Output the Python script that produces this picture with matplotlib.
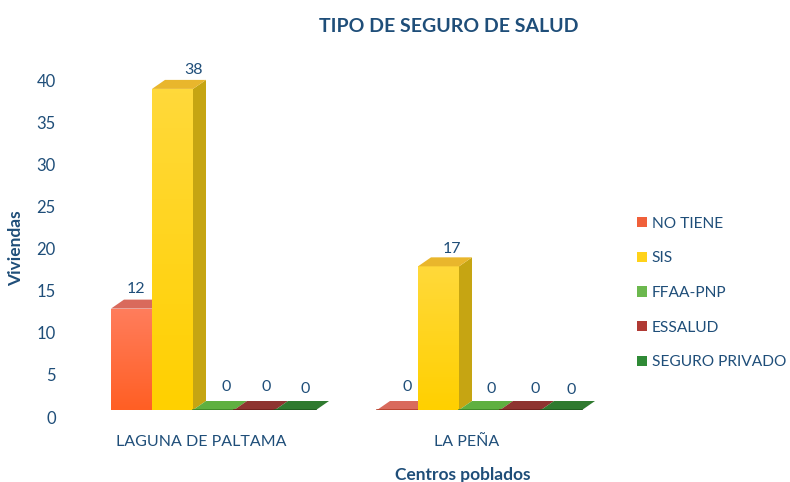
import numpy as np
import matplotlib
matplotlib.use('Agg')
import matplotlib.pyplot as plt
from matplotlib.colors import to_rgb, LinearSegmentedColormap
from matplotlib.patches import Polygon, Patch

plt.rcParams['font.family'] = ['Lato', 'DejaVu Sans']

centros = ['LAGUNA DE PALTAMA', 'LA PEÑA']
seguros = ['NO TIENE', 'SIS', 'FFAA-PNP', 'ESSALUD', 'SEGURO PRIVADO']
no_tiene = [12, 0]
sis = [38, 17]
ffaa = [0, 0]
essalud = [0, 0]
privado = [0, 0]
series = [no_tiene, sis, ffaa, essalud, privado]
y_ticks = [0, 5, 10, 15, 20, 25, 30, 35, 40]

# front (top of gradient, bottom of gradient), top face, side face
front_top = ['#ff7d5c', '#ffd93a', '#66b544', '#a33a34', '#3c8a3c']
front_bot = ['#ff5f24', '#ffd000', '#4fa030', '#8a2a26', '#2a752a']
top_col = ['#d96a5c', '#e9b62c', '#5fb040', '#8e3430', '#2f7a2f']
side_col = ['#b5402a', '#c6a512', '#3d8526', '#6c201c', '#1f5a1f']
legend_col = ['#f0603a', '#ffd21a', '#6cb84e', '#b03a34', '#2f8a36']
txt_col = '#1f4e79'

W, H = 790, 482
PX_GROUP = 266.0   # px between groups
PX_UNIT = 8.45     # px per value unit
bar_w = 41.0 / PX_GROUP
depth_x = 13.0 / PX_GROUP
depth_y = 9.0 / PX_UNIT

fig = plt.figure(figsize=(7.9, 4.82), dpi=100)

# axes for the bars, bottom edge on the floor of the 3D box
left, right, base, top = 60, 610, 410, 60
ax = fig.add_axes([left / W, 1 - base / H, (right - left) / W, (base - top) / H])
ax.axis('off')

# the value axis sits a bit lower than the floor
ay = fig.add_axes([left / W, 1 - 417 / H, 10 / W, 337 / H], frameon=False)
ay.set_ylim(0, 40)
ay.set_xticks([])
ay.set_yticks(y_ticks)
ay.tick_params(axis='y', length=0, pad=3, labelsize=12, labelcolor=txt_col)
ay.patch.set_alpha(0)

x = np.arange(len(centros))
# nudge of value labels in px (x, y)
nudges = [[(5, 13), (10, 16)], [(21, 12), (13, 10)], [(13, 16), (12, 14)],
          [(12, 16), (15, 14)], [(10, 14), (10, 13)]]

for i, vals in enumerate(series):
    xs = x + (i - 2) * bar_w
    bars = ax.bar(xs, vals, width=bar_w, color=front_bot[i], linewidth=0, zorder=2 + i)
    cmap = LinearSegmentedColormap.from_list('f', [to_rgb(front_top[i]), to_rgb(front_bot[i])])
    for b, px, v in zip(bars, xs, vals):
        x0, x1 = px - bar_w / 2, px + bar_w / 2
        if v > 0:
            im = ax.imshow(np.linspace(0, 1, 64).reshape(-1, 1), cmap=cmap, aspect='auto',
                           extent=(x0, x1, 0, v), zorder=2 + i)
            im.set_clip_path(b)
            ax.add_patch(Polygon([(x1, 0), (x1 + depth_x, depth_y), (x1 + depth_x, v + depth_y), (x1, v)],
                                 facecolor=side_col[i], edgecolor='none', zorder=2 + i))
        ax.add_patch(Polygon([(x0, v), (x0 + depth_x, v + depth_y), (x1 + depth_x, v + depth_y), (x1, v)],
                             facecolor=top_col[i], edgecolor='none', zorder=2 + i))
        if v == 0:
            ax.plot([x0, x1], [0, 0], color=side_col[i], lw=1.2, zorder=2 + i)

for i, vals in enumerate(series):
    xs = x + (i - 2) * bar_w
    for j, (px, v) in enumerate(zip(xs, vals)):
        ax.annotate(str(v), (px, v), xytext=(nudges[i][j][0] * 0.72, nudges[i][j][1] * 0.72),
                    textcoords='offset points', ha='center', va='bottom',
                    fontsize=11.5, color=txt_col, zorder=10)

ax.set_xlim((left - 213.5) / PX_GROUP, (right - 213.5) / PX_GROUP)
ax.set_ylim(0, (base - top) / PX_UNIT)

# category labels sit left of the group centres
for c, px in zip(centros, [201, 467]):
    fig.text(px / W, 1 - 442 / H, c, ha='center', va='center', fontsize=11.5, color=txt_col)

fig.text(449 / W, 1 - 26 / H, 'TIPO DE SEGURO DE SALUD', ha='center', va='center',
         fontsize=14, fontweight='bold', color=txt_col)
fig.text(463 / W, 1 - 475 / H, 'Centros poblados', ha='center', va='center',
         fontsize=12.5, fontweight='bold', color=txt_col)
fig.text(16 / W, 1 - 248 / H, 'Viviendas', ha='center', va='center', rotation=90,
         fontsize=12.5, fontweight='bold', color=txt_col)

handles = [Patch(facecolor=c, edgecolor='none') for c in legend_col]
fig.legend(handles, seguros, loc='center left', bbox_to_anchor=(637 / W, 1 - 293 / H),
           frameon=False, fontsize=11.2, labelcolor=txt_col, handlelength=0.65, handleheight=0.65,
           handletextpad=0.3, labelspacing=1.33, borderpad=0, borderaxespad=0)

fig.savefig('out.png', dpi=100)
